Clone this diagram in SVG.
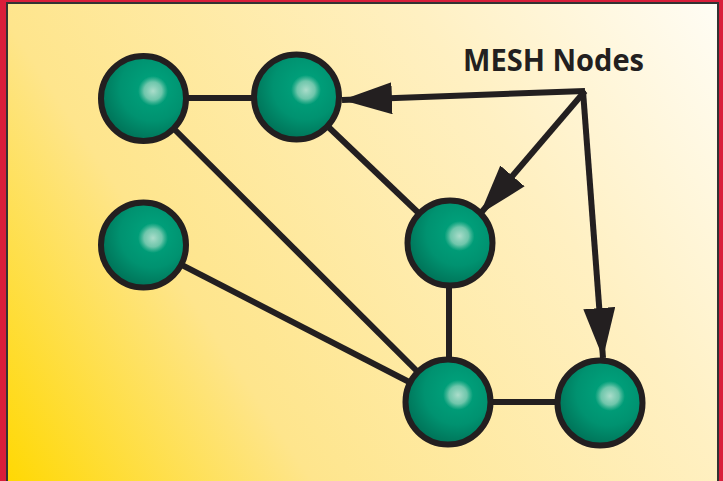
<svg xmlns="http://www.w3.org/2000/svg" width="723" height="481" viewBox="0 0 723 481">
<defs>
<linearGradient id="bg" gradientUnits="userSpaceOnUse" x1="0" y1="481" x2="723" y2="0">
<stop offset="0" stop-color="#ffd800"/>
<stop offset="0.3" stop-color="#fee58c"/>
<stop offset="0.7" stop-color="#fff0c2"/>
<stop offset="1" stop-color="#fffdf6"/>
</linearGradient>
<radialGradient id="ball" cx="0.6" cy="0.38" r="0.7" fx="0.62" fy="0.38">
<stop offset="0" stop-color="#00a67f"/>
<stop offset="0.55" stop-color="#009270"/>
<stop offset="1" stop-color="#006a51"/>
</radialGradient>
<radialGradient id="hl" cx="0.5" cy="0.5" r="0.5">
<stop offset="0" stop-color="#b5e0cf" stop-opacity="0.95"/>
<stop offset="0.6" stop-color="#9ed6c0" stop-opacity="0.7"/>
<stop offset="1" stop-color="#7ccaae" stop-opacity="0"/>
</radialGradient>
<marker id="ah" viewBox="0 -16 50 32" refX="50" refY="0" markerWidth="50" markerHeight="32" markerUnits="userSpaceOnUse" orient="auto">
<path d="M0,-16 L50,0 L0,16 z" fill="#231f20"/>
</marker>
<style>
.edge{stroke:#231f20;stroke-width:6;fill:none}
.arrow{stroke:#231f20;stroke-width:6;fill:none;marker-end:url(#ah)}
.ball{fill:url(#ball);stroke:#231f20;stroke-width:6}
.hl{fill:url(#hl)}
.lbl{font-family:"Open Sans","Liberation Sans",sans-serif;font-weight:bold;font-size:30px;fill:#231f20}
</style>
</defs>
<rect x="0" y="0" width="723" height="481" fill="#d91e3a"/>
<rect x="7" y="3" width="711" height="490" fill="url(#bg)" stroke="#333" stroke-width="2"/>
<g id="connectors">
<line class="edge" x1="143" y1="98" x2="297" y2="98"/>
<line class="edge" x1="143" y1="98" x2="448" y2="402"/>
<line class="edge" x1="297" y1="97" x2="450" y2="243"/>
<line class="edge" x1="143" y1="245" x2="448" y2="402"/>
<line class="edge" x1="449" y1="243" x2="449" y2="402"/>
<line class="edge" x1="448" y1="402" x2="600" y2="402"/>
<line class="arrow" x1="585" y1="91" x2="342" y2="100"/>
<line class="arrow" x1="585" y1="91" x2="480" y2="214"/>
<line class="arrow" x1="583" y1="91" x2="603" y2="358"/>
</g>
<g id="node1"><circle class="ball" cx="143.5" cy="98.5" r="42.5"/><circle class="hl" cx="153" cy="91" r="15"/></g>
<g id="node2"><circle class="ball" cx="296.5" cy="97" r="42.5"/><circle class="hl" cx="306" cy="90" r="15"/></g>
<g id="node3"><circle class="ball" cx="143.5" cy="245" r="42.5"/><circle class="hl" cx="153" cy="238" r="15"/></g>
<g id="node4"><circle class="ball" cx="450" cy="243" r="42.5"/><circle class="hl" cx="459.5" cy="236" r="15"/></g>
<g id="node5"><circle class="ball" cx="448" cy="402" r="42.5"/><circle class="hl" cx="458" cy="395" r="15"/></g>
<g id="node6"><circle class="ball" cx="600" cy="403" r="42.5"/><circle class="hl" cx="610" cy="396" r="15"/></g>
<g id="label"><text class="lbl" x="463" y="71" textLength="181" lengthAdjust="spacingAndGlyphs">MESH Nodes</text></g>
</svg>
